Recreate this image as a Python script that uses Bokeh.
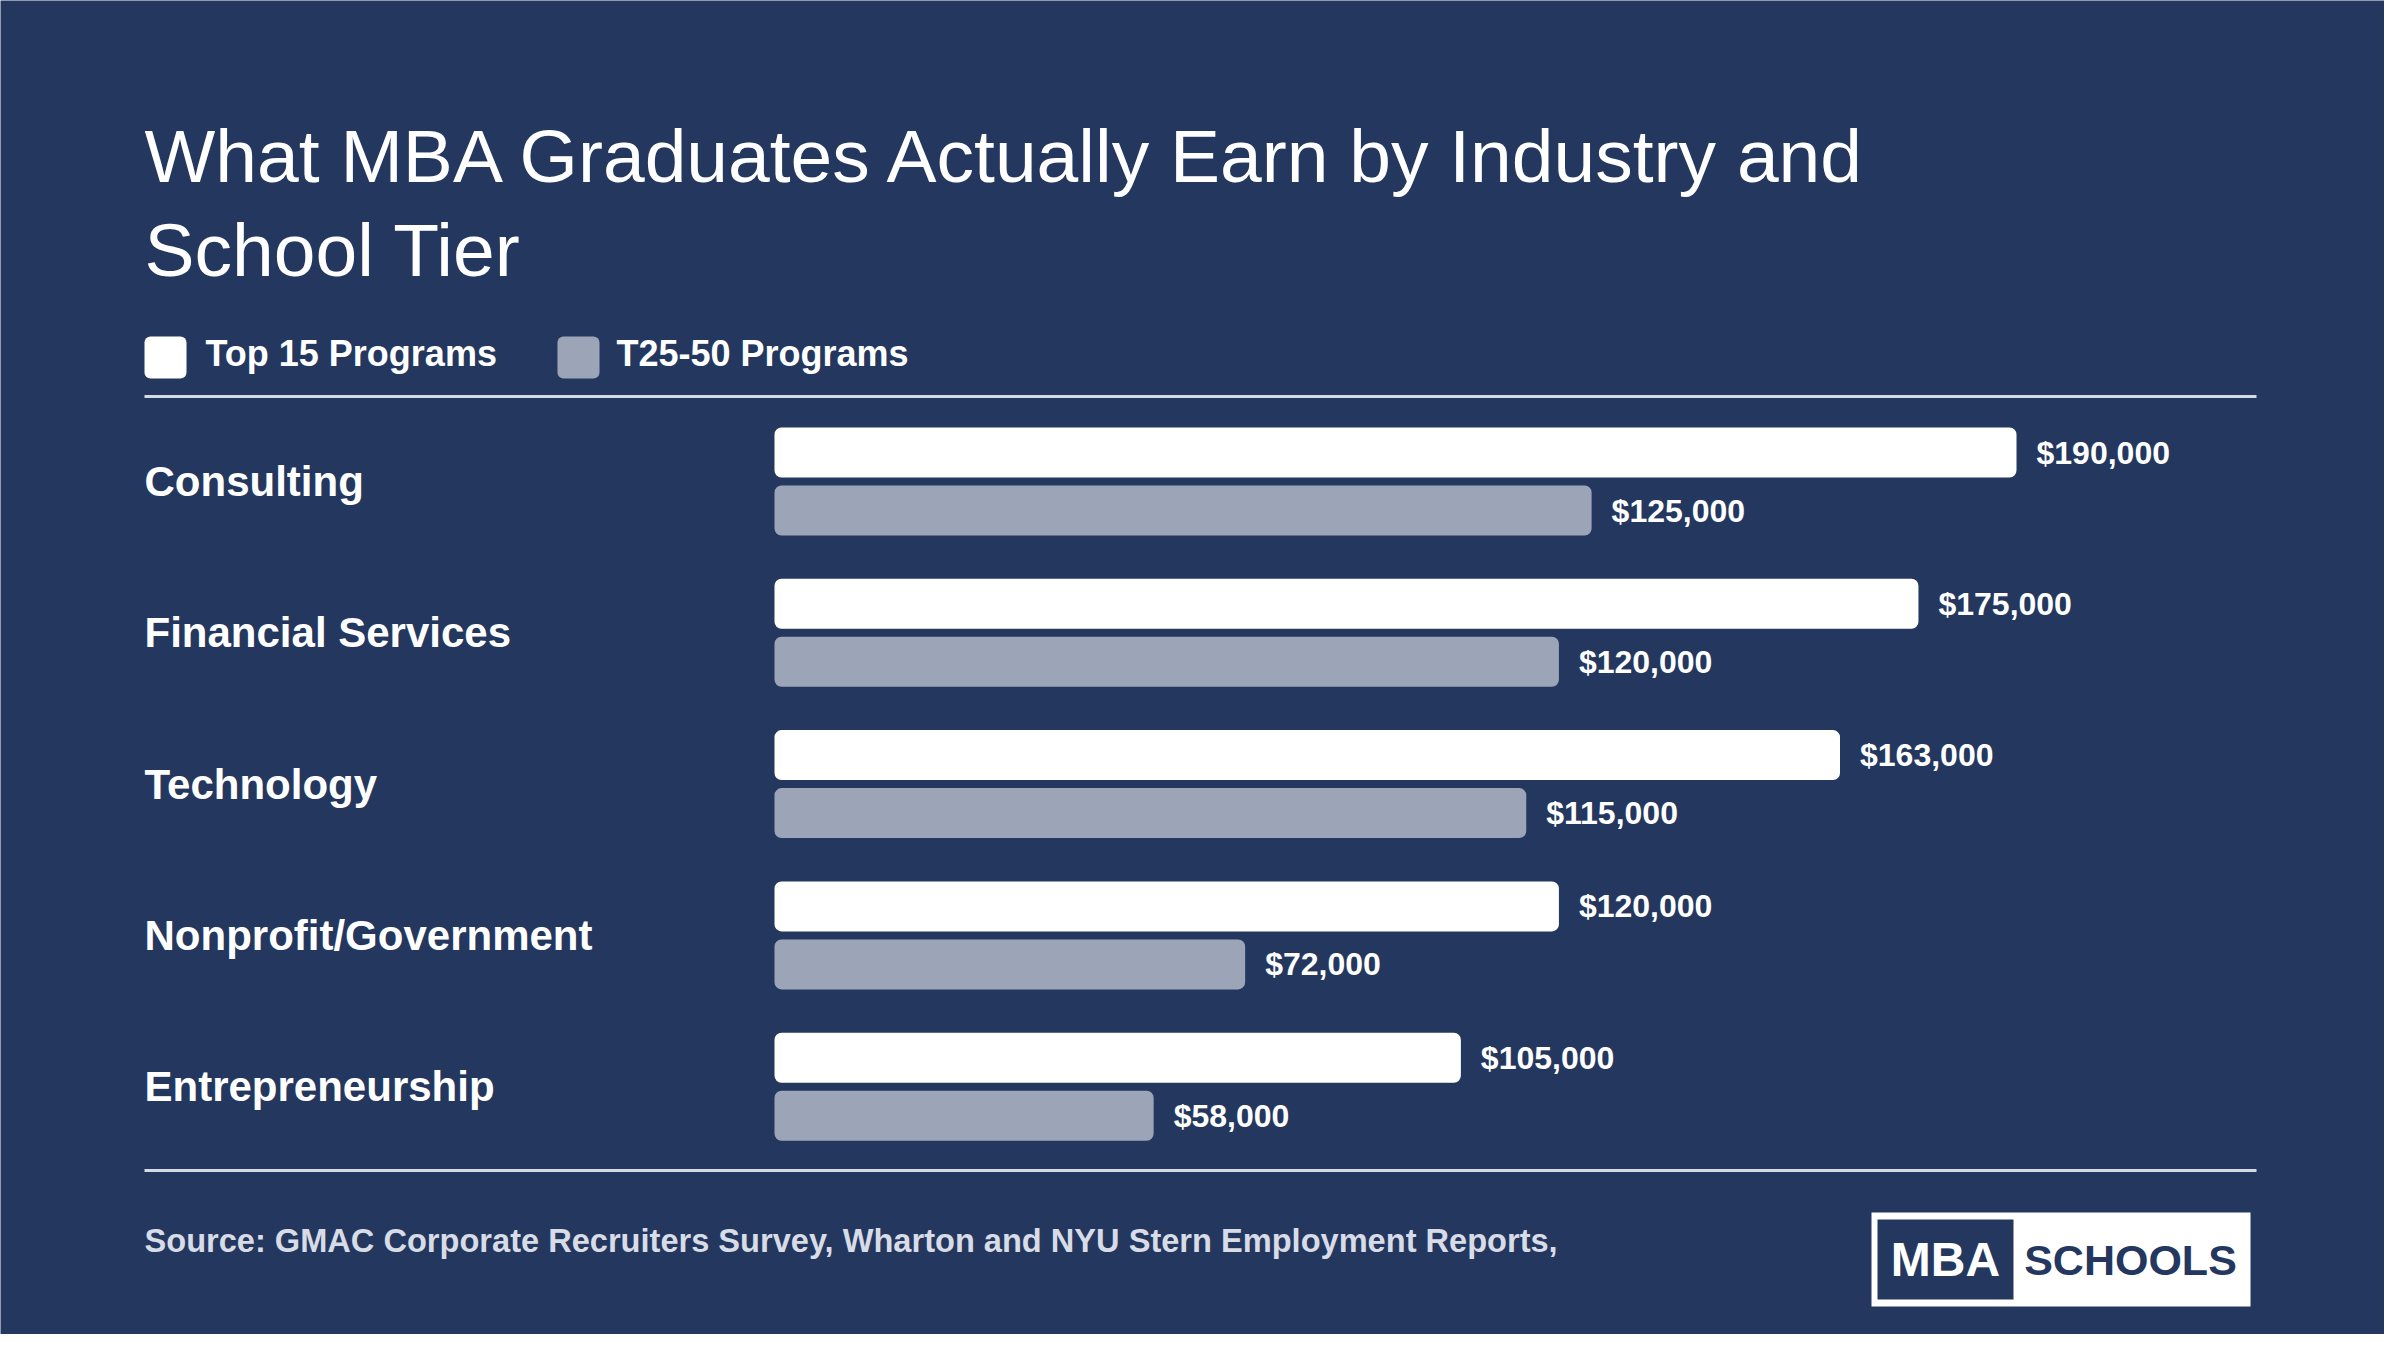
from bokeh.plotting import figure
from bokeh.models import Range1d, ColumnDataSource
from bokeh.core.properties import value
from bokeh.embed import file_html
from bokeh.resources import INLINE

# ---- data ----
categories = ["Consulting", "Financial Services", "Technology",
              "Nonprofit/Government", "Entrepreneurship"]
top15 = [190000, 175000, 163000, 120000, 105000]
t25_50 = [125000, 120000, 115000, 72000, 58000]
series_names = ["Top 15 Programs", "T25-50 Programs"]
title_lines = ["What MBA Graduates Actually Earn by Industry and", "School Tier"]
source_text = "Source: GMAC Corporate Recruiters Survey, Wharton and NYU Stern Employment Reports,"

# ---- style ----
BG = "#24385f"
WHITE = "#ffffff"
GRAY = "#9ca5b8"
RULE = "#d5dae4"
FONT = "Liberation Sans"

W, H = 2384, 1334
OX, OY = 0, 0

# value scale: 0 at x=774px, 190k -> 2016px
X0_PX = 774
PX_PER_UNIT = (2016 - 774) / 190000.0
# rows: first group centre at 481px, pitch 151.3px
ROW0_PX = 481
ROW_PITCH = 151.3

x_start = (OX - X0_PX) / PX_PER_UNIT
x_end = (OX + W - X0_PX) / PX_PER_UNIT
y_start = (OY + H - ROW0_PX) / ROW_PITCH
y_end = (OY - ROW0_PX) / ROW_PITCH

p = figure(width=W, height=H, output_backend="svg", toolbar_location=None,
           x_range=Range1d(x_start, x_end), y_range=Range1d(y_start, y_end),
           x_axis_location=None, y_axis_location=None, min_border=0)
p.grid.visible = False
p.outline_line_color = None
p.background_fill_color = BG
p.border_fill_color = BG
p.extra_x_ranges = {"px": Range1d(OX, OX + W)}
p.extra_y_ranges = {"px": Range1d(OY + H, OY)}

n = len(categories)
idx = list(range(n))
bar_h = 50 / ROW_PITCH
off = 29 / ROW_PITCH

src = ColumnDataSource(dict(
    cat=categories,
    yc=idx,
    y1=[i - off for i in idx],
    y2=[i + off for i in idx],
    v1=top15,
    v2=t25_50,
    l1=["${:,.0f}".format(v) for v in top15],
    l2=["${:,.0f}".format(v) for v in t25_50],
))

p.hbar(y="y1", left=0, right="v1", height=bar_h, source=src,
       fill_color=WHITE, line_color=None, border_radius=7)
p.hbar(y="y2", left=0, right="v2", height=bar_h, source=src,
       fill_color=GRAY, line_color=None, border_radius=7)

p.text(x="v1", y="y1", text="l1", source=src, x_offset=20,
       text_font=value(FONT), text_font_style="bold", text_font_size="32px",
       text_color=WHITE, text_baseline="middle", text_align="left")
p.text(x="v2", y="y2", text="l2", source=src, x_offset=20,
       text_font=value(FONT), text_font_style="bold", text_font_size="32px",
       text_color=WHITE, text_baseline="middle", text_align="left")

# category labels
p.text(x=144, y="yc", text="cat", source=src, x_range_name="px",
       text_font=value(FONT), text_font_style="bold", text_font_size="42px",
       text_color=WHITE, text_baseline="middle", text_align="left")


def label(x, y, txt, size, color=WHITE, bold=False, align="left"):
    p.text(x=[x], y=[y], text=[txt], x_range_name="px", y_range_name="px",
           text_font=value(FONT), text_font_style="bold" if bold else "normal",
           text_font_size=size, text_color=color, text_baseline="middle",
           text_align=align)


# title
for txt, yc in zip(title_lines, [155.5, 249.5]):
    label(144, yc, txt, "75px")

# legend
p.quad(left=[144, 557], right=[186, 599], top=[336, 336], bottom=[378, 378],
       fill_color=[WHITE, GRAY], line_color=None, border_radius=6,
       x_range_name="px", y_range_name="px")
for txt, xl in zip(series_names, [205, 616]):
    label(xl, 353, txt, "36px", bold=True)

# rules
p.segment(x0=[144, 144], x1=[2256, 2256], y0=[396, 1170], y1=[396, 1170],
          line_color=RULE, line_width=3, x_range_name="px", y_range_name="px")

# source
label(144, 1240, source_text, "32.6px", color="#d8dce6", bold=True)

# logo
p.quad(left=[1871], right=[2250], top=[1212], bottom=[1306], fill_color=WHITE,
       line_color=None, x_range_name="px", y_range_name="px")
p.quad(left=[1877], right=[2013], top=[1219], bottom=[1299], fill_color=BG,
       line_color=None, x_range_name="px", y_range_name="px")
label(1945, 1259, "MBA", "48px", bold=True, align="center")
label(2130, 1259, "SCHOOLS", "43px", color=BG, bold=True, align="center")

html = file_html(p, INLINE)
html = html.replace("<body>", '<body style="background-color: %s;">' % BG, 1)
open("out.html", "w").write(html)
